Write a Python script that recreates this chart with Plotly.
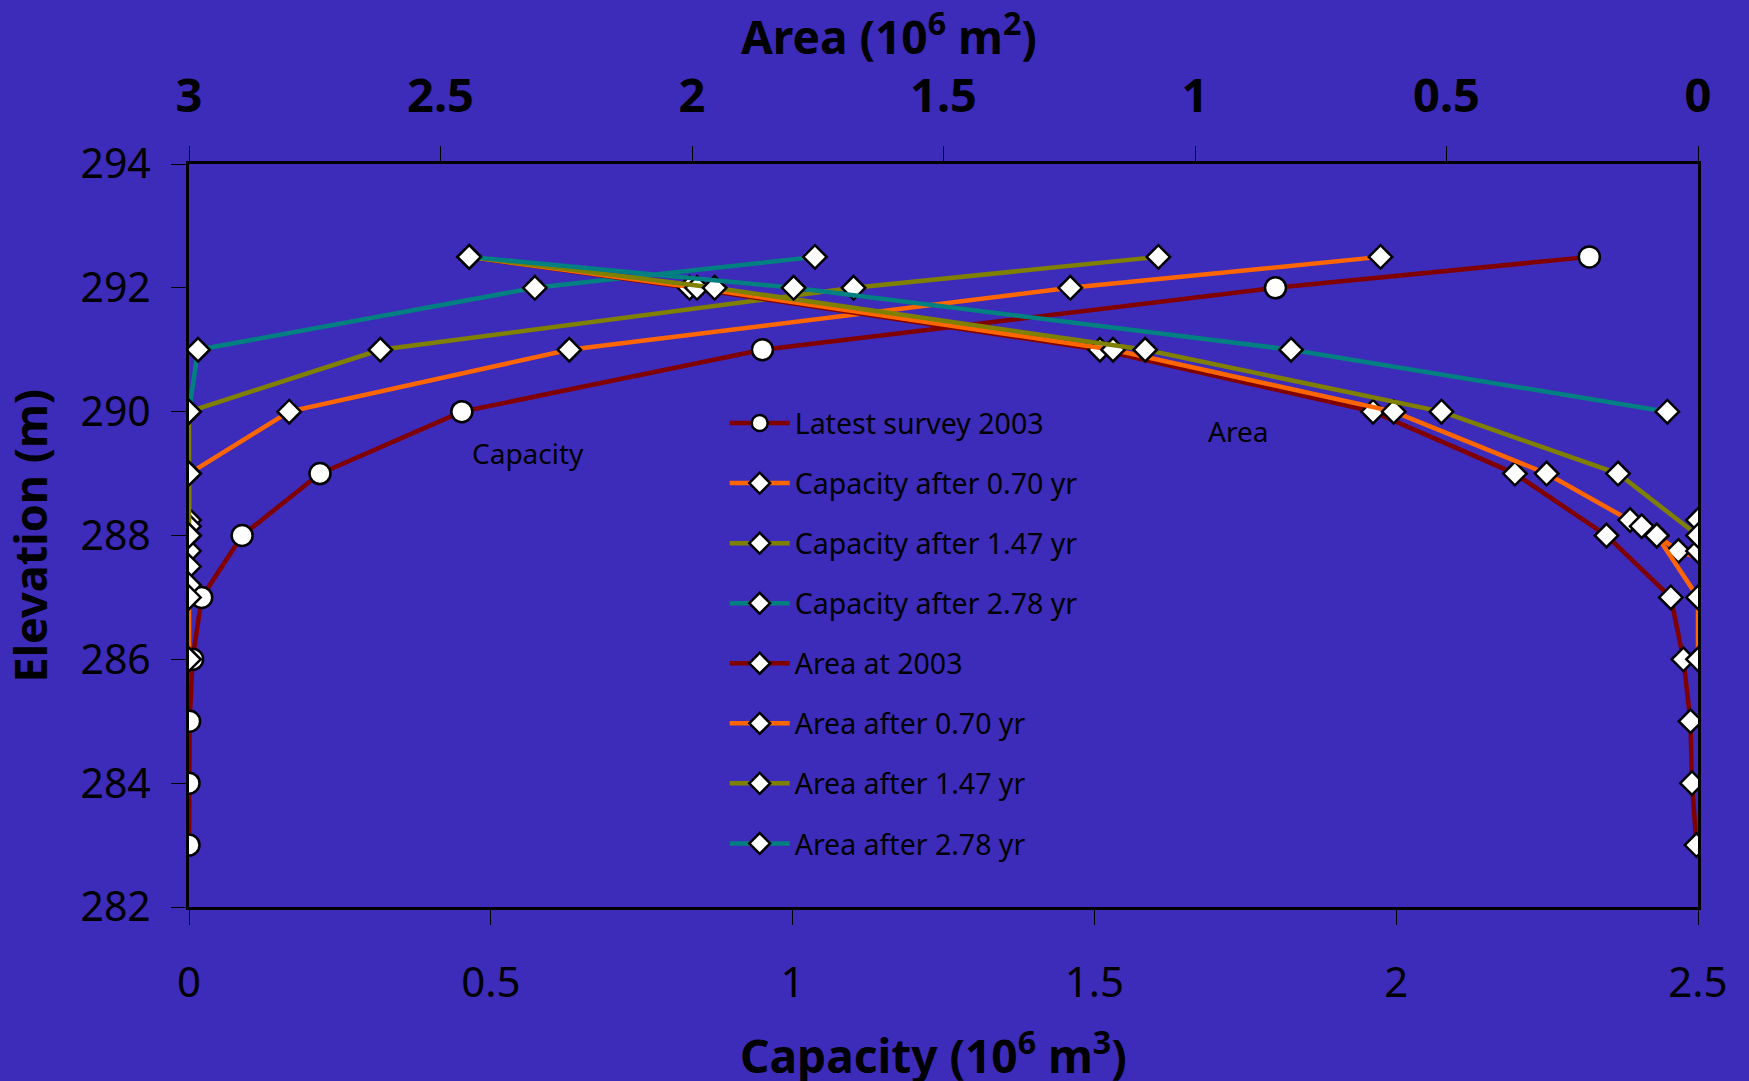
import plotly.graph_objects as go

# Elevation-capacity-area curves of the reservoir (capacity 10^6 m3, area 10^6 m2)
elev_2003 = [292.5, 292, 291, 290, 289, 288, 287, 286, 285, 284, 283]
cap_2003 = [2.32, 1.80, 0.95, 0.452, 0.217, 0.088, 0.021, 0.006, 0.001, 0.0, 0.0]
area_2003 = [2.443, 2.005, 1.189, 0.646, 0.364, 0.182, 0.054, 0.029, 0.015, 0.012, 0.003]

elev_070 = [292.5, 292, 291, 290, 289, 288.25, 288.15, 288.0, 287.75, 287.5, 287.2, 287.0, 286.0]
cap_070 = [1.974, 1.460, 0.630, 0.166, 0.0, 0.0, 0.0, 0.0, 0.0, 0.0, 0.0, 0.0, 0.0]
elev_area_070 = [292.5, 292, 291, 290, 289, 288.25, 288.15, 288.0, 287.75, 287.5]
area_070 = [2.443, 1.990, 1.163, 0.605, 0.301, 0.135, 0.112, 0.082, 0.039, -0.05]
elev_area_070b = [288.0, 287.0, 286.0, None, 288.25, None, 287.75]
area_070b = [0.082, 0.0, 0.0, None, 0.0, None, 0.0]

elev_147 = [292.5, 292, 291, 290, 289, 288.0]
cap_147 = [1.606, 1.101, 0.317, 0.0, 0.0, 0.0]
area_147 = [2.443, 1.955, 1.099, 0.510, 0.159, 0.0]

elev_278 = [292.5, 292, 291, 290]
cap_278 = [1.037, 0.573, 0.015, 0.0]
area_278 = [2.443, 1.798, 0.809, 0.061]

cap_ticks = [0, 0.5, 1, 1.5, 2, 2.5]
area_ticks = [3, 2.5, 2, 1.5, 1, 0.5, 0]
elev_ticks = [282, 284, 286, 288, 290, 292, 294]

DARKRED = "#800000"
ORANGE = "#FF6600"
OLIVE = "#808000"
TEAL = "#008080"
BG = "#3D2BBA"
FONT = "Noto Sans"

circle = dict(symbol="circle", size=21, color="white", line=dict(color="black", width=2.5))
diamond = dict(symbol="diamond", size=18, color="white", line=dict(color="black", width=2.5))
LW = 4.5

fig = go.Figure()


def add(x, y, name, color, marker, axis="x", showlegend=True, group=None):
    fig.add_trace(go.Scatter(
        x=x, y=y, name=name, mode="lines+markers",
        line=dict(color=color, width=LW), marker=marker,
        xaxis=axis, yaxis="y", showlegend=showlegend,
        legendgroup=group or name, connectgaps=False,
    ))


add(cap_2003, elev_2003, "Latest survey 2003", DARKRED, circle)
add(cap_070, elev_070, "Capacity after 0.70 yr", ORANGE, diamond)
add(cap_147, elev_147, "Capacity after 1.47 yr", OLIVE, diamond)
add(cap_278, elev_278, "Capacity after 2.78 yr", TEAL, diamond)
add(area_2003, elev_2003, "Area at 2003", DARKRED, diamond, axis="x2")
add(area_070, elev_area_070, "Area after 0.70 yr", ORANGE, diamond, axis="x2")
add(area_070b, elev_area_070b, "Area after 0.70 yr (lower)", ORANGE, diamond, axis="x2",
    showlegend=False, group="Area after 0.70 yr")
add(area_147, elev_147, "Area after 1.47 yr", OLIVE, diamond, axis="x2")
add(area_278, elev_278, "Area after 2.78 yr", TEAL, diamond, axis="x2")

axis_common = dict(
    showgrid=False, zeroline=False, showline=True, linecolor="black", linewidth=3,
    ticks="outside", ticklen=15, tickwidth=1, tickcolor="black", layer="below traces",
)

fig.update_layout(
    width=1749, height=1081,
    margin=dict(l=189, r=51, t=164, b=174, autoexpand=False),
    paper_bgcolor=BG, plot_bgcolor=BG,
    font=dict(family=FONT, color="black"),
    xaxis=dict(
        range=[0, 2.5], tickvals=cap_ticks, ticktext=[f"{v:g}" for v in cap_ticks],
        tickfont=dict(size=42), ticklabelstandoff=22, **axis_common,
    ),
    xaxis2=dict(
        range=[3, 0], overlaying="x", side="top", anchor="y",
        tickvals=area_ticks, ticktext=[f"{v:g}" for v in area_ticks],
        tickfont=dict(size=47, weight="bold"), ticklabelstandoff=15, **axis_common,
    ),
    yaxis=dict(
        range=[282, 294], tickvals=elev_ticks, mirror=True,
        tickfont=dict(size=41), ticklabelstandoff=12, **axis_common,
    ),
    legend=dict(
        x=0.355, y=0.685, xanchor="left", yanchor="top",
        bgcolor="rgba(0,0,0,0)", font=dict(size=28.5, color="black"),
        tracegroupgap=20, itemwidth=60, itemsizing="trace",
    ),
    showlegend=True,
)

fig.add_annotation(text="Area (10<sup>6</sup> m<sup>2</sup>)", xref="paper", yref="paper",
                   x=0.464, y=1.175, showarrow=False, xanchor="center", yanchor="middle",
                   font=dict(size=46, weight="bold"))
fig.add_annotation(text="Capacity (10<sup>6</sup> m<sup>3</sup>)", xref="paper", yref="paper",
                   x=0.4934, y=-0.197, showarrow=False, xanchor="center", yanchor="middle",
                   font=dict(size=46, weight="bold"))
fig.add_annotation(text="Elevation (m)", xref="paper", yref="paper",
                   x=-0.1060, y=0.5, showarrow=False, textangle=-90,
                   xanchor="center", yanchor="middle", font=dict(size=45, weight="bold"))
fig.add_annotation(text="Capacity", xref="x", yref="y", x=0.561, y=289.33,
                   showarrow=False, font=dict(size=28))
fig.add_annotation(text="Area", xref="x2", yref="y", x=0.915, y=289.68,
                   showarrow=False, font=dict(size=28))

fig.write_html("out.html")
